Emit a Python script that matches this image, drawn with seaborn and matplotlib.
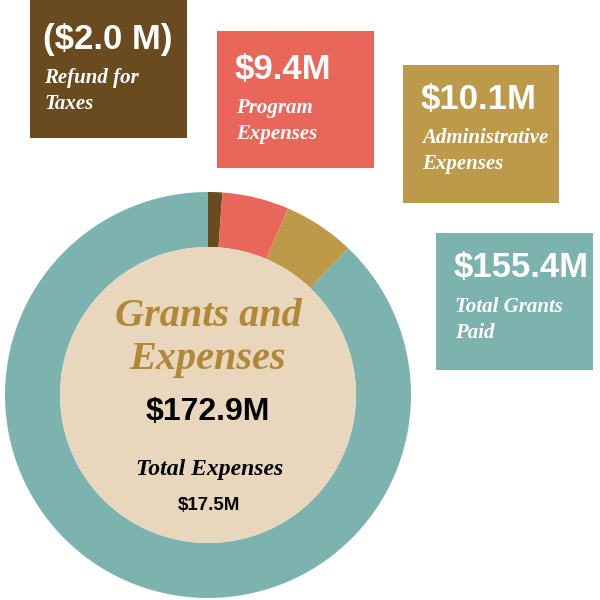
import matplotlib
matplotlib.use("Agg")
import matplotlib.pyplot as plt
import seaborn as sns
from matplotlib.patches import Rectangle

# data
categories = ['Refund for\nTaxes', 'Program\nExpenses', 'Administrative\nExpenses', 'Total Grants\nPaid']
values = [2.0, 9.4, 10.1, 155.4]
value_labels = ['($2.0 M)', '$9.4M', '$10.1M', '$155.4M']
colors = ['#6A4A1F', '#E8665A', '#BD9A4A', '#7DB3AF']

center_title = 'Grants and\nExpenses'
center_total = '$172.9M'
center_sub = 'Total Expenses'
center_sub_value = '$17.5M'

sns.set_theme(style='white')
plt.rcParams['font.family'] = ['Liberation Sans', 'DejaVu Sans']

fig = plt.figure(figsize=(6, 6), dpi=100)
ax = fig.add_axes([0, 0, 1, 1])

# donut (pixel coords, y flipped)
cx, cy = 208, 600 - 395
R, ring = 203, 55
ax.pie(values, colors=colors, startangle=90, counterclock=False,
       center=(cx, cy), radius=R, frame=True,
       wedgeprops=dict(width=ring, linewidth=0))
ax.set_xlim(0, 600)
ax.set_ylim(0, 600)
ax.set_aspect('equal')
ax.axis('off')
ax.add_patch(plt.Circle((cx, cy), R - ring, color='#E8D7BC', lw=0, zorder=3))

# label boxes: (left, top, width, height) in pixels
boxes = [(30, 0, 157, 138), (217, 31, 157, 137), (403, 65, 156, 138), (436, 233, 157, 137)]
val_offset = [39, 38, 34, 35]
script = dict(family=['Liberation Serif', 'DejaVu Serif'], style='italic', weight='bold')
for (l, t, w, h), lab, vlab, col, vo in zip(boxes, categories, value_labels, colors, val_offset):
    ax.add_patch(Rectangle((l, 600 - t - h), w, h, color=col, lw=0, zorder=2))
    tx = l + 18 if l != 30 else l + 13
    ax.text(tx, 600 - t - vo, vlab, color='white', fontsize=25, weight='bold',
            va='center', ha='left', zorder=4)
    ax.text(tx + 1, 600 - t - vo - 29, lab, color='white', fontsize=15,
            va='top', ha='left', linespacing=1.4, zorder=4, **script)

# centre text
ax.text(cx, 600 - 338, center_title, color='#B08838', fontsize=29, ha='center',
        va='center', linespacing=1.25, zorder=5, **script)
narrow = ['Liberation Sans Narrow', 'Liberation Sans', 'DejaVu Sans']
ax.text(cx, 600 - 412, center_total, color='black', fontsize=23, weight='bold',
        family=narrow, ha='center', va='center', zorder=5)
ax.text(cx + 2, 600 - 470, center_sub, color='black', fontsize=17, ha='center',
        va='center', zorder=5, **script)
ax.text(cx + 1, 600 - 505, center_sub_value, color='black', fontsize=13.5, weight='bold',
        family=narrow, ha='center', va='center', zorder=5)

plt.savefig('out.png', dpi=100)
